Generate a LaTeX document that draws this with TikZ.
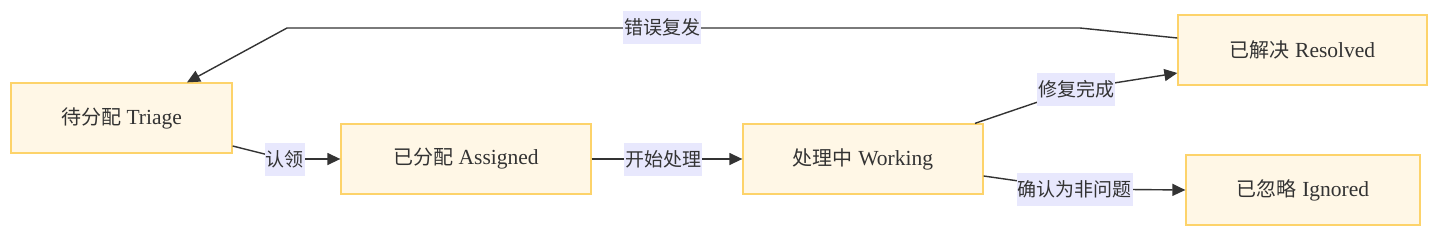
\documentclass[tikz,border=0pt]{standalone}
\usepackage{fontspec}
\setmainfont{Liberation Serif}
\newfontfamily\cjk{Noto Sans CJK SC}
\usetikzlibrary{arrows.meta}
\definecolor{nodefill}{HTML}{FFF7E6}
\definecolor{nodeline}{HTML}{FDD36A}
\definecolor{labelbg}{HTML}{E8E8FD}
\definecolor{ink}{HTML}{333333}
\newcommand{\zh}[1]{{\cjk\fontsize{20pt}{24pt}\selectfont #1}}
\tikzset{
  state/.style={draw=nodeline, fill=nodefill, line width=1.3pt, minimum height=70pt, inner sep=0pt, text=ink, font=\fontsize{21.5pt}{24pt}\selectfont},
  elabel/.style={fill=labelbg, inner xsep=1pt, inner ysep=0pt, minimum height=33pt, text=ink, font=\cjk\fontsize{19pt}{22pt}\selectfont},
  conn/.style={draw=ink, line width=1.4pt},
  arr/.style={conn, -{Triangle[length=13pt,width=12pt]}}
}
\begin{document}
\begin{tikzpicture}[x=1pt,y=-1pt]
\useasboundingbox (0,0) rectangle (1438,236);
\node[state, minimum width=221pt] (triage) at (121.5,118) {\raisebox{-1.5pt}{\zh{待分配} Triage}};
\node[state, minimum width=250pt] (assigned) at (466,159) {\raisebox{-1.5pt}{\zh{已分配} Assigned}};
\node[state, minimum width=240pt] (working) at (863,159) {\raisebox{-1.5pt}{\zh{处理中} Working}};
\node[state, minimum width=249pt] (resolved) at (1302.5,50) {\raisebox{-1.5pt}{\zh{已解决} Resolved}};
\node[state, minimum width=234pt] (ignored) at (1303,190) {\raisebox{-1.5pt}{\zh{已忽略} Ignored}};
\coordinate (p1) at (284.5,159);
\coordinate (p2) at (663,159);
\coordinate (p3) at (1076,89);
\coordinate (p4) at (1074.5,189);
\coordinate (p5) at (662,27);
\coordinate (c1) at (1080,28);
\coordinate (c2) at (287,28);
\draw[conn] ([yshift=-28pt]triage.east) -- (p1);
\draw[arr] (p1) -- (assigned.west);
\draw[arr] (assigned.east) -- (working.west);
\draw[conn] ([xshift=112pt]working.north) -- (p3);
\draw[arr] (p3) -- ([yshift=-23pt]resolved.west);
\draw[conn] ([yshift=-17pt]working.east) -- (p4);
\draw[arr] (p4) -- (ignored.west);
\draw[arr] ([yshift=12pt]resolved.west) -- (c1) -- (c2) -- ([xshift=65.5pt]triage.north);
\node[elabel] (l1) at (p1) {认领};
\node[elabel] (l2) at (p2) {开始处理};
\node[elabel] (l3) at (p3) {修复完成};
\node[elabel] (l4) at (p4) {确认为非问题};
\node[elabel] (l5) at (p5) {错误复发};
\end{tikzpicture}
\end{document}
